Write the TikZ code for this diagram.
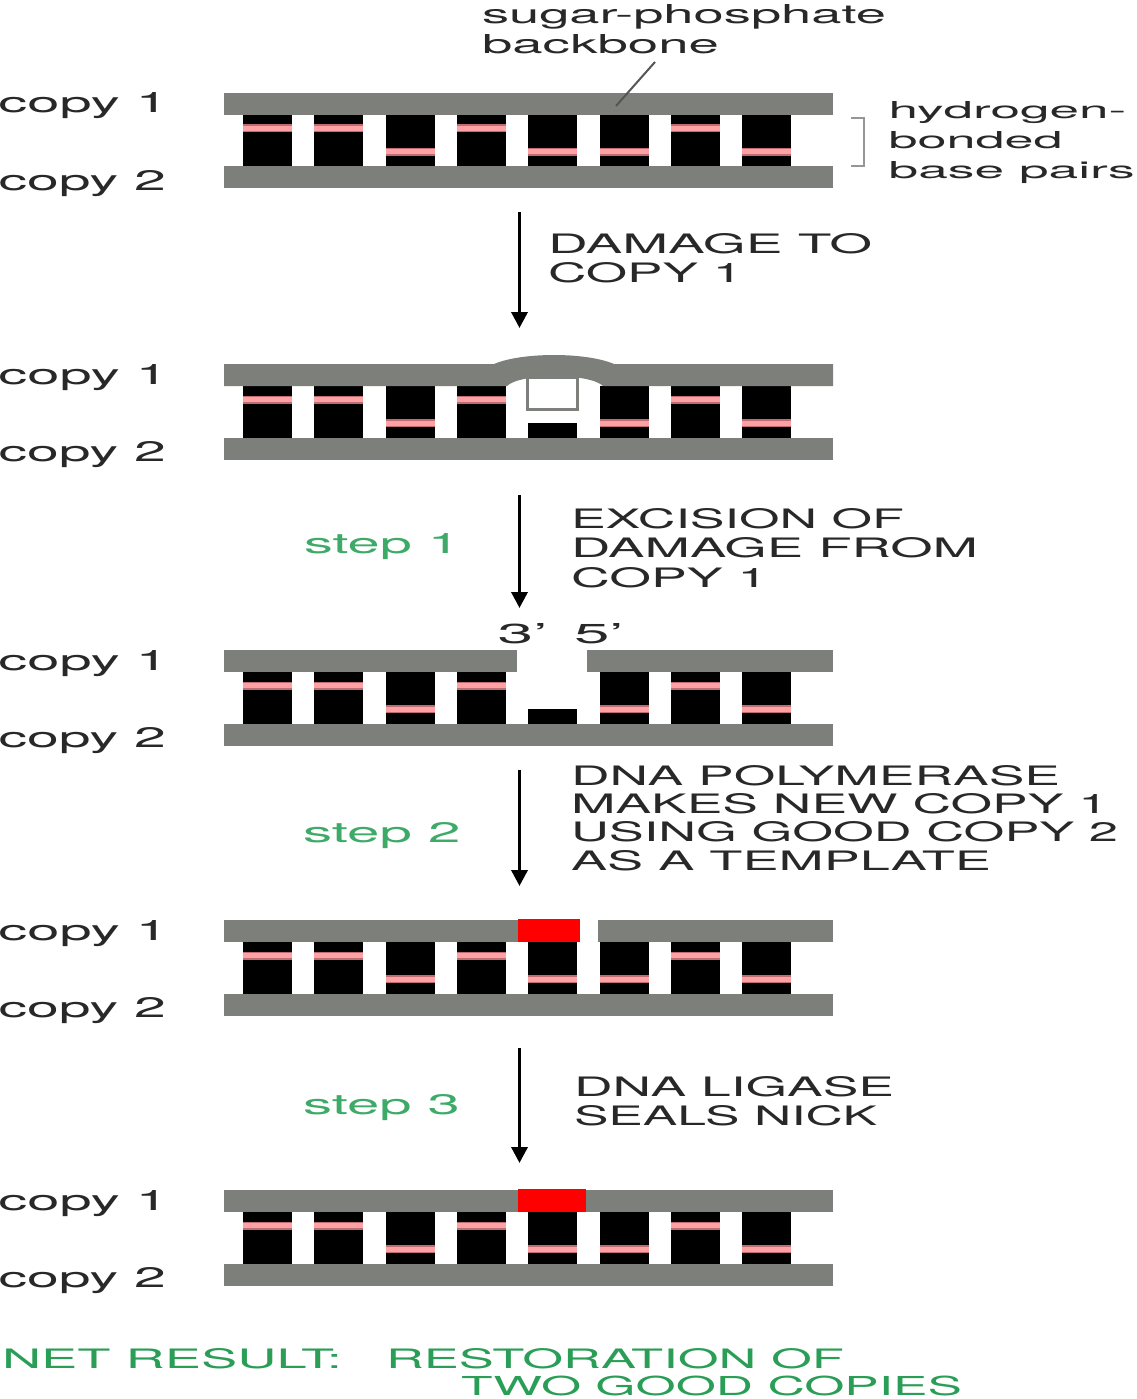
\documentclass[tikz,border=0pt]{standalone}
\usepackage{fontspec}
\usepackage{graphicx}
\setmainfont{TeX Gyre Heros}
\usetikzlibrary{arrows.meta}

\definecolor{bbgray}{RGB}{125,128,122}
\definecolor{hpink}{RGB}{255,160,165}
\definecolor{hpinkedge}{RGB}{190,110,115}
\definecolor{ink}{RGB}{40,40,40}
\definecolor{stepgreen}{RGB}{62,170,104}
\definecolor{netgreen}{RGB}{42,158,86}
\definecolor{repairred}{RGB}{255,0,0}
\definecolor{leadgray}{RGB}{85,85,85}
\definecolor{bracketgray}{RGB}{150,150,150}

% a line of text stretched to a given width and height (in pt)
\newcommand\fitline[3]{\resizebox{#1pt}{#2pt}{#3}}

% column index / position of the hydrogen bond below the top of the backbone
\def\fullpairs{0/35.5,1/35.5,2/59,3/35.5,4/59,5/59,6/35.5,7/59}
\def\gappairs{0/35.5,1/35.5,2/59,3/35.5,5/59,6/35.5,7/59}

% base pairs of one double strand: #1 = top of the upper backbone, #2 = columns
\newcommand\drawpairs[2]{%
  \foreach \c/\lv in #2 {
    \fill[basepair] ({243+71.3*\c},{#1+22}) rectangle ++(49,51.5);
    \fill[hbondedge] ({243+71.3*\c},{#1+\lv-4}) rectangle ++(49,8);
    \fill[hbond] ({243+71.3*\c},{#1+\lv-2.5}) rectangle ++(49,5);
  }}

\begin{document}
\begin{tikzpicture}[x=1pt, y=-1pt,
  backbone/.style={fill=bbgray},
  basepair/.style={fill=black},
  hbond/.style={fill=hpink},
  hbondedge/.style={fill=hpinkedge},
  lbl/.style={inner sep=0pt, outer sep=0pt, anchor=north west, text=ink,
    align=left, font=\fontsize{24}{#1}\selectfont},
  lbl/.default=29,
  stepnote/.style={lbl, text=stepgreen},
  netnote/.style={lbl, text=netgreen},
  flow/.style={line width=3.5pt, draw=black, -{Triangle[width=16pt,length=16pt]}},
  leader/.style={draw=leadgray, line width=2pt},
  bracketline/.style={draw=bracketgray, line width=1.6pt}]

\useasboundingbox (0,0) rectangle (1136,1399);

% ---------- intact double strand ----------
\drawpairs{93}{\fullpairs}
\fill[backbone] (224,93) rectangle (833,115);
\fill[backbone] (224,166.5) rectangle (833,188.5);

% ---------- damaged base in copy 1 ----------
\drawpairs{364}{\gappairs}
\fill[backbone] (224,364) -- (494,364) .. controls (522,352) and (586,352) .. (614,364)
  -- (833,364) -- (833,386) -- (603,386) .. controls (590,373) and (520,373) .. (507,386)
  -- (224,386) -- cycle;
\fill[backbone] (224,437.5) rectangle (833,459.5);
\filldraw[fill=white, draw=bbgray, line width=3pt] (527,377.5) rectangle (577,409.5);
\fill[basepair] (528.2,423) rectangle (577.2,437.5);

% ---------- damage excised ----------
\drawpairs{650}{\gappairs}
\fill[backbone] (224,650) rectangle (517,672);
\fill[backbone] (587,650) rectangle (833,672);
\fill[backbone] (224,723.5) rectangle (833,745.5);
\fill[basepair] (528.2,709) rectangle (577.2,723.5);

% ---------- new nucleotide, nick left ----------
\drawpairs{920}{\fullpairs}
\fill[backbone] (224,920) rectangle (518,942);
\fill[repairred] (518,919) rectangle (580,942);
\fill[backbone] (598,920) rectangle (833,942);
\fill[backbone] (224,993.5) rectangle (833,1015.5);

% ---------- nick sealed ----------
\drawpairs{1190}{\fullpairs}
\fill[backbone] (224,1190) rectangle (833,1212);
\fill[repairred] (518,1189) rectangle (586,1212);
\fill[backbone] (224,1263.5) rectangle (833,1285.5);

% ---------- strand labels ----------
\foreach \t/\n in {93/a,364/b,650/c,920/d,1190/e} {
  \node[lbl] (copyone\n) at (-1.5,\t) {\fitline{169.5}{20}{copy 1}};
  \node[lbl] (copytwo\n) at (-1.5,{\t+77.5}) {\fitline{167.3}{20}{copy 2}};
}

% ---------- annotations of the first strand ----------
\node[lbl] (spnote) at (482,5)
  {\fitline{404}{19}{sugar-phosphate}\\\fitline{237}{19}{backbone}};
\coordinate (leadtop) at (655,62);
\coordinate (leadend) at (616,106);
\draw[leader] (leadtop) -- (leadend);

\draw[bracketline] (851,118) -- (864,118) -- (864,166) -- (851,166);
\node[lbl=30] (hbnote) at (888.7,101)
  {\fitline{237.5}{17}{hydrogen-}\\\fitline{174}{17}{bonded}\\\fitline{246}{17}{base pairs}};

% ---------- strand ends at the gap ----------
\node[lbl] (threeprime) at (497.6,623) {\fitline{50}{20}{3'}};
\node[lbl] (fiveprime) at (574,623) {\fitline{49.6}{20}{5'}};

% ---------- steps ----------
\coordinate (fa1) at (519.5,212);  \coordinate (fb1) at (519.5,328);
\coordinate (fa2) at (519.5,495);  \coordinate (fb2) at (519.5,608);
\coordinate (fa3) at (519.5,770);  \coordinate (fb3) at (519.5,886);
\coordinate (fa4) at (519.5,1048); \coordinate (fb4) at (519.5,1163);
\draw[flow] (fa1) -- (fb1);
\draw[flow] (fa2) -- (fb2);
\draw[flow] (fa3) -- (fb3);
\draw[flow] (fa4) -- (fb4);

\node[lbl] (damage) at (548,233)
  {\fitline{324}{20}{DAMAGE TO}\\\fitline{194.5}{20}{COPY 1}};

\node[stepnote] (stepone) at (304,533) {\fitline{156}{20}{step 1}};
\node[lbl=29.5] (excise) at (571,508)
  {\fitline{333}{20}{EXCISION OF}\\\fitline{407}{20}{DAMAGE FROM}\\\fitline{196.5}{20}{COPY 1}};

\node[stepnote] (steptwo) at (303,822) {\fitline{157.5}{20}{step 2}};
\node[lbl=28.4] (polymerase) at (571,765)
  {\fitline{489}{20}{DNA POLYMERASE}\\\fitline{537}{20}{MAKES NEW COPY 1}\\%
   \fitline{547}{20}{USING GOOD COPY 2}\\\fitline{420}{20}{AS A TEMPLATE}};

\node[stepnote] (stepthree) at (303,1094) {\fitline{157}{20}{step 3}};
\node[lbl] (ligase) at (574,1076)
  {\fitline{320}{20}{DNA LIGASE}\\\fitline{303}{20}{SEALS NICK}};

% ---------- net result ----------
\node[netnote] (netlabel) at (2,1348) {\fitline{340}{20}{NET RESULT:}};
\node[netnote] (netone) at (386,1348) {\fitline{458}{20}{RESTORATION OF}};
\node[netnote] (nettwo) at (461,1376) {\fitline{501}{19.5}{TWO GOOD COPIES}};

\end{tikzpicture}
\end{document}
